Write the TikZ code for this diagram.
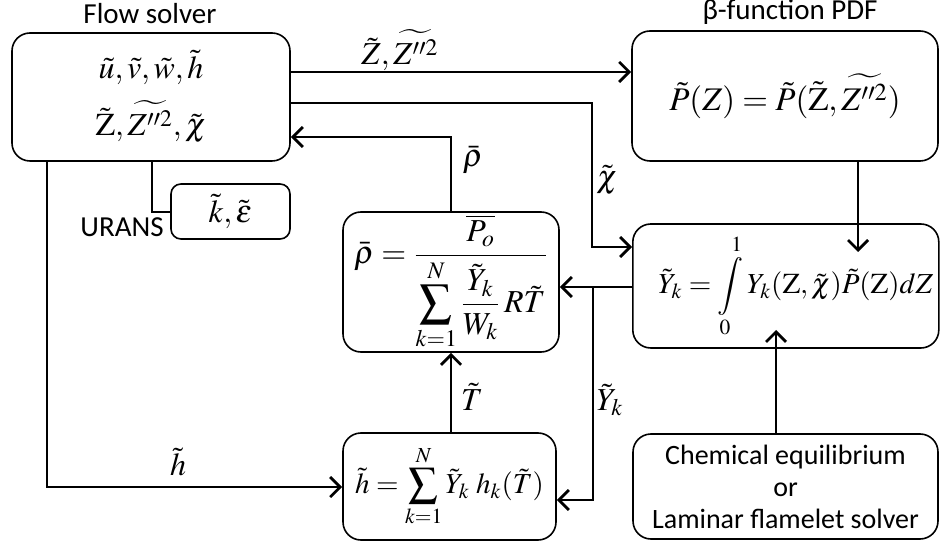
\documentclass[tikz,border=0pt]{standalone}
\usepackage{amsmath}
\usepackage{mathptmx}
\usepackage[no-math]{fontspec}
\setmainfont{Carlito}
\usepackage{tikz}
\usetikzlibrary{arrows.meta,positioning}
\tikzset{
  block/.style={draw,rounded corners=9pt,line width=0.8pt,align=center,inner sep=2pt},
  smallblock/.style={block,rounded corners=5pt},
  conn/.style={->,line width=1.4pt},
  wire/.style={line width=1.4pt},
  eqn/.style={font=\fontsize{16}{19}\selectfont},
  midEqn/.style={font=\fontsize{14.5}{18}\selectfont},
  bigeqn/.style={font=\fontsize{16.5}{20}\selectfont},
  lab/.style={font=\fontsize{14}{16}\selectfont},
}

\begin{document}
\begin{tikzpicture}[x=0.5pt,y=-0.5pt,>={Straight Barb[length=5pt,width=10pt]}]
  \useasboundingbox (0,0) rectangle (940,544);
  \node[block,eqn,minimum width=139pt,minimum height=64pt] (flow) at (151,97)
    {$\tilde{u},\tilde{v},\tilde{w},\tilde{h}$\\[7pt]
     $\tilde{\mathrm{Z}},\widetilde{Z''^{2}},\tilde{\chi}$};
  \node[lab,font=\fontsize{14.5}{16}\selectfont] (flowlab) at (150,14) {Flow solver};
  \node[smallblock,eqn,minimum width=59.5pt,minimum height=27.5pt] (keps) at (230.5,211.5)
    {$\tilde{k},\tilde{\varepsilon}$};
  \node[lab,font=\fontsize{14.5}{16}\selectfont] (urans) at (122,227) {URANS};
  \node[block,bigeqn,minimum width=153pt,minimum height=65pt] (pdf) at (785,96)
    {$\tilde{P}(Z)=\tilde{P}(\tilde{\mathrm{Z}},\widetilde{Z''^{2}})$};
  \node[lab,font=\fontsize{14.5}{16}\selectfont] (pdflab) at (790,12) {β-function PDF};
  \node[block,midEqn,minimum width=153pt,minimum height=62pt,inner sep=0pt,anchor=west] (yk) at (632,286)
    {\hspace*{10pt}$\displaystyle\tilde{Y}_{k}=\int\limits_{0}^{1}Y_{k}(\mathrm{Z},\tilde{\chi})\tilde{P}(\mathrm{Z})dZ$};
  \node[block,eqn,minimum width=108pt,minimum height=70pt,inner sep=1pt] (rho) at (451,282)
    {$\displaystyle\bar{\rho}=\frac{\overline{P_{o}}}{\displaystyle\sum_{k=1}^{N}\dfrac{\tilde{Y}_{k}}{W_{k}}\,R\tilde{T}}$};
  \node[block,midEqn,minimum width=106.5pt,minimum height=53.5pt,inner sep=1pt] (hsum) at (449.5,486.5)
    {$\displaystyle\tilde{h}=\sum_{k=1}^{N}\tilde{Y}_{k}\;h_{k}(\tilde{T})$};
  \node[block,lab,minimum width=152.5pt,minimum height=52.5pt] (chem) at (785.5,486.5)
    {Chemical equilibrium\\or\\Laminar flamelet solver};

  \draw[conn] (flow.east |- 0,72) -- (pdf.west |- 0,72);
  \node[eqn] (zlab) at (400,50) {$\tilde{Z},\widetilde{Z''^{2}}$};
  \draw[conn] (flow.east |- 0,103) -- (592,103) -- (592,247) -- (yk.west |- 0,247);
  \node[eqn] (chilab) at (607,180) {$\tilde{\chi}$};
  \draw[conn] (rho.north -| 451,0) -- (451,137) -- (flow.east |- 0,137);
  \node[eqn] (rholab) at (473,160) {$\bar{\rho}$};
  \draw[wire] (flow.south -| 152,0) -- (152,212) -- (keps.west |- 0,212);
  \draw[conn] (flow.south -| 47,0) -- (47,487) -- (hsum.west |- 0,487);
  \node[eqn] (hlab) at (178,462) {$\tilde{h}$};
  \draw[conn] (hsum.north -| 451,0) -- (rho.south -| 451,0);
  \node[eqn] (tlab) at (472,397) {$\tilde{T}$};
  \draw[conn] (yk.west |- 0,287) -- (rho.east |- 0,287);
  \draw[conn] (593,287) -- (593,500) -- (hsum.east |- 0,500);
  \node[eqn] (yklab) at (610,400) {$\tilde{Y}_{k}$};
  \draw[conn] (pdf.south -| 858,0) -- (858,252);
  \draw[conn] (chem.north -| 776,0) -- (776,330);
\end{tikzpicture}
\end{document}
